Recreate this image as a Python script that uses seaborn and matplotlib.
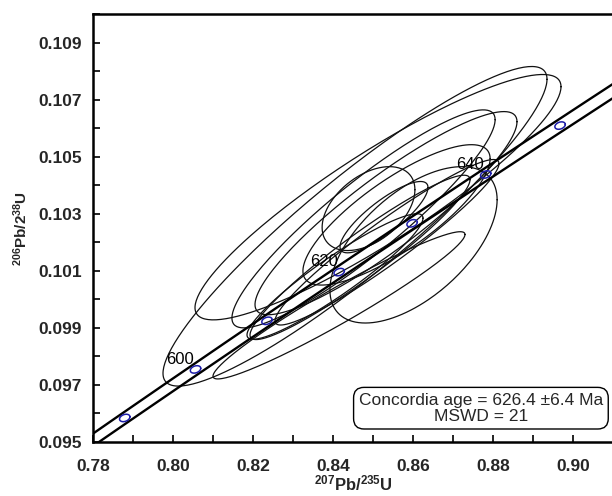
import numpy as np
import pandas as pd
import matplotlib
matplotlib.use("Agg")
import matplotlib.pyplot as plt
import seaborn as sns
from matplotlib.ticker import MultipleLocator, FormatStrFormatter

# ---- data: analysis error ellipses (2-sigma half extents) ----
pb207_u235 = [0.8455, 0.85125, 0.84763, 0.85325, 0.84888, 0.85588, 0.85275, 0.8415,
              0.86013, 0.84675, 0.8535, 0.8405]
pb206_u238 = [0.10256, 0.10358, 0.10282, 0.10302, 0.10318, 0.10296, 0.10288, 0.09979,
              0.10191, 0.10147, 0.10200, 0.10080]
err_207_235 = [0.048, 0.04575, 0.0329, 0.03275, 0.0116, 0.0234, 0.011, 0.0315,
               0.0209, 0.0275, 0.028, 0.022]
err_206_238 = [0.0056, 0.0043, 0.00382, 0.00356, 0.00147, 0.00246, 0.00125, 0.00258,
               0.00274, 0.00288, 0.0029, 0.0022]
rho = [0.92, 0.90, 0.91, 0.90, 0.45, 0.80, 0.83, 0.962, 0.577, 0.945, 0.95, 0.93]

# concordia age markers (Ma)
marker_ages = [590, 600, 610, 620, 630, 640, 650]
labeled_ages = [600, 620, 640]

x_ticks = [0.78, 0.80, 0.82, 0.84, 0.86, 0.88, 0.90]
y_ticks = [0.095, 0.097, 0.099, 0.101, 0.103, 0.105, 0.107, 0.109]
box_text = "Concordia age = 626.4 \u00b16.4 Ma\nMSWD = 21"

L238 = 1.55125e-10
L235 = 9.8485e-10

sns.set_theme(style="white")
plt.rcParams["font.family"] = ["Liberation Sans", "DejaVu Sans"]
plt.rcParams["mathtext.default"] = "regular"

fig = plt.figure(figsize=(6.12, 4.96), dpi=100)
ax = fig.add_axes([93 / 612, 54 / 496, 520 / 612, 428 / 496])


def ellipse_pts(xc, yc, ex, ey, r, n=240):
    t = np.linspace(0, 2 * np.pi, n)
    x = xc + ex * np.cos(t)
    y = yc + ey * (r * np.cos(t) + np.sqrt(1 - r * r) * np.sin(t))
    return x, y


rows = []
for i in range(len(pb207_u235)):
    ex, ey = ellipse_pts(pb207_u235[i], pb206_u238[i], err_207_235[i], err_206_238[i], rho[i])
    rows.append(pd.DataFrame({"x": ex, "y": ey, "id": i}))
ell_df = pd.concat(rows, ignore_index=True)

sns.lineplot(data=ell_df, x="x", y="y", units="id", estimator=None, sort=False,
             color="#111111", lw=0.9, legend=False, ax=ax)

# concordia band (decay-constant envelope)
ages = np.linspace(560e6, 690e6, 400)
band = []
for k, f in enumerate([1 - 0.0022, 1 + 0.0022]):
    band.append(pd.DataFrame({"x": np.exp(L235 * f * ages) - 1,
                              "y": np.exp(L238 * ages) - 1, "id": k}))
band_df = pd.concat(band, ignore_index=True)
sns.lineplot(data=band_df, x="x", y="y", units="id", estimator=None, sort=False,
             color="black", lw=1.7, legend=False, ax=ax)

# age markers
for a in marker_ages:
    mx = np.exp(L235 * a * 1e6) - 1
    my = np.exp(L238 * a * 1e6) - 1
    px, py = ellipse_pts(mx, my, 0.0013, 0.00013, 0.3, 60)
    ax.plot(px, py, color="#1c1ca8", lw=1.1)
    if a in labeled_ages:
        ax.annotate(str(a), (mx, my), xytext=(-1, 2), textcoords="offset points",
                    ha="right", va="bottom", fontsize=12, color="black")

ax.set_xlim(0.78, 0.91)
ax.set_ylim(0.095, 0.110)
ax.set_xticks(x_ticks)
ax.set_yticks(y_ticks)
ax.xaxis.set_major_formatter(FormatStrFormatter("%.2f"))
ax.yaxis.set_major_formatter(FormatStrFormatter("%.3f"))
ax.xaxis.set_minor_locator(MultipleLocator(0.01))
ax.yaxis.set_minor_locator(MultipleLocator(0.001))
ax.tick_params(which="both", direction="in", length=5, width=1.2, color="black",
               bottom=True, left=True, top=False, right=False)
ax.tick_params(axis="x", pad=12, labelsize=12.5)
ax.tick_params(axis="y", pad=8, labelsize=12.5)
for lab in ax.get_xticklabels() + ax.get_yticklabels():
    lab.set_fontweight("bold")

for s in ["left", "top", "bottom"]:
    ax.spines[s].set_linewidth(1.8)
    ax.spines[s].set_color("black")
ax.spines["right"].set_visible(False)

ax.set_xlabel(r"$^{207}$Pb/$^{235}$U", fontsize=12, fontweight="bold", labelpad=0)
ax.set_ylabel(r"$^{206}$Pb/2$^{38}$U", fontsize=11, fontweight="bold", labelpad=6)

ax.text(0.746, 0.079, box_text, transform=ax.transAxes, ha="center", va="center",
        multialignment="center", fontsize=12.5, linespacing=1.1,
        bbox=dict(boxstyle="round,pad=0.3,rounding_size=0.6", fc="white", ec="black", lw=1.0),
        zorder=5)

fig.savefig("out.png", dpi=100, facecolor="white")
